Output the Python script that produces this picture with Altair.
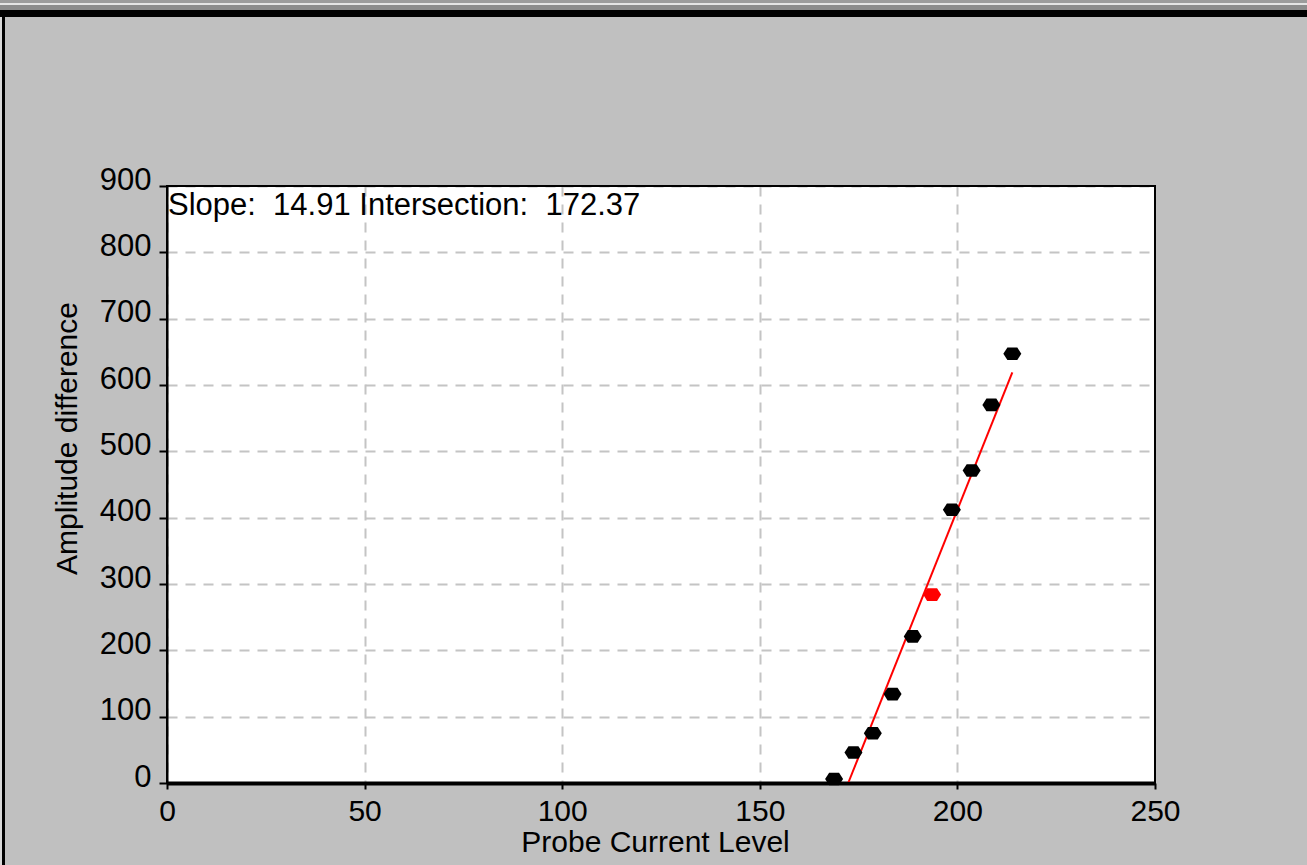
import altair as alt
import pandas as pd

# Measured points: probe current level vs. amplitude difference
probe_level = [168.8, 173.7, 178.6, 183.6, 188.7, 193.6, 198.6, 203.6, 208.6, 213.9]
amplitude_diff = [6, 46, 75, 134, 221, 284, 412, 471, 570, 647]
point_color = ["black", "black", "black", "black", "black", "red",
               "black", "black", "black", "black"]

# Linear fit parameters (x-intercept form)
slope = 14.91
intersection = 172.37

x_ticks = [0, 50, 100, 150, 200, 250]
y_ticks = [0, 100, 200, 300, 400, 500, 600, 700, 800, 900]

FONT = "Liberation Sans"
W, H = 988, 597
PAD = {"left": 167, "top": 186, "right": 152, "bottom": 82}

points = pd.DataFrame({"x": probe_level, "y": amplitude_diff, "c": point_color})
fit_x = [intersection, max(probe_level)]
fit = pd.DataFrame({"x": fit_x, "y": [slope * (v - intersection) for v in fit_x]})

x_scale = alt.Scale(domain=[0, 250], nice=False)
y_scale = alt.Scale(domain=[0, 900], nice=False)

x_axis = alt.Axis(
    values=x_ticks, grid=True, gridDash=[10, 8], gridColor="#c4c4c4", gridWidth=2,
    domainColor="black", domainWidth=4, tickColor="black", tickWidth=2, tickSize=6,
    labelFont=FONT, labelFontSize=30, labelColor="black", labelPadding=7,
    labelFlush=False, labelOverlap=False,
    title="Probe Current Level", titleFont=FONT, titleFontSize=30,
    titleFontWeight="normal", titleColor="black",
    titleX=488, titleY=59, titleAlign="center", titleBaseline="middle",
)
y_axis = alt.Axis(
    values=y_ticks, grid=True, gridDash=[10, 8], gridColor="#c4c4c4", gridWidth=2,
    domainColor="black", domainWidth=2, tickColor="black", tickWidth=2, tickSize=8,
    labelFont=FONT, labelFontSize=31, labelColor="black", labelPadding=8,
    labelFlush=False, labelOverlap=False, labelBaseline="alphabetic", labelOffset=3,
    title="Amplitude difference", titleFont=FONT, titleFontSize=30,
    titleFontWeight="normal", titleColor="black", titleAngle=270,
    titleX=-100, titleY=252, titleAlign="center", titleBaseline="middle",
)

hexagon = "M-1,0L-0.55,-0.7L0.55,-0.7L1,0L0.55,0.7L-0.55,0.7Z"

scatter = alt.Chart(points).mark_point(
    filled=True, shape=hexagon, size=324, opacity=1
).encode(
    x=alt.X("x:Q", scale=x_scale, axis=x_axis),
    y=alt.Y("y:Q", scale=y_scale, axis=y_axis),
    color=alt.Color("c:N", scale=None),
)

fit_line = alt.Chart(fit).mark_line(color="#ff0000", strokeWidth=2).encode(
    x=alt.X("x:Q", scale=x_scale),
    y=alt.Y("y:Q", scale=y_scale),
)

one = alt.Data(values=[{}])

label = alt.Chart(one).mark_text(
    align="left", baseline="alphabetic", font=FONT, fontSize=31, color="black"
).encode(
    x=alt.value(1), y=alt.value(29),
    text=alt.value(f"Slope: \u00a0{slope:.2f} Intersection: \u00a0{intersection:.2f}"),
)

# Plot-area border
border = alt.Chart(one).mark_rect(fill=None, stroke="black", strokeWidth=2).encode(
    x=alt.value(0), x2=alt.value(W), y=alt.value(0), y2=alt.value(H),
)


def band(x0, x1, y0, y1, color):
    """Window frame strip in page pixels, shifted to plot coordinates."""
    return alt.Chart(one).mark_rect(color=color, opacity=1).encode(
        x=alt.value(x0 - PAD["left"]), x2=alt.value(x1 - PAD["left"]),
        y=alt.value(y0 - PAD["top"]), y2=alt.value(y1 - PAD["top"]),
    )


page_w, page_h = W + PAD["left"] + PAD["right"], H + PAD["top"] + PAD["bottom"]
frame = [
    band(0, page_w, 0, 3, "#9c9c9c"),
    band(0, page_w, 3, 5, "#e4e4e4"),
    band(0, page_w, 5, 10, "#8c8c8c"),
    band(0, page_w, 10, 17, "#000000"),
    band(0, 2, 17, page_h, "#d8d8d8"),
    band(2, 5, 10, page_h, "#000000"),
]

chart = alt.layer(
    *frame, fit_line, scatter, label, border
).properties(
    width=W, height=H,
    autosize=alt.AutoSizeParams(type="none"),
    padding=PAD,
    background="#c0c0c0",
).configure_view(
    fill="white", stroke=None,
)

chart.save("out.html", embed_options={"renderer": "svg", "actions": False})
